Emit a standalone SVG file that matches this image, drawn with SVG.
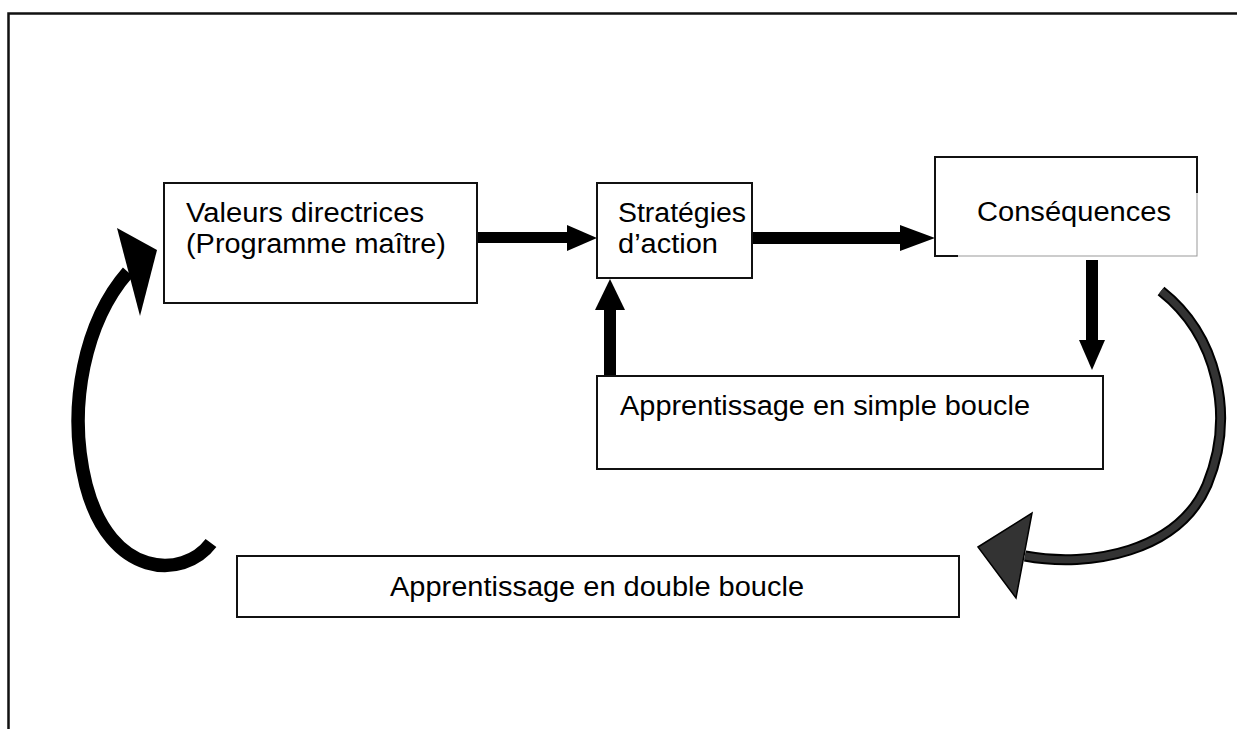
<svg xmlns="http://www.w3.org/2000/svg" width="1237" height="729" viewBox="0 0 1237 729">
<style>
.box{fill:#fff;stroke:#111;stroke-width:2}
.t{font-family:"Liberation Sans",Arial,sans-serif;font-size:27px;fill:#000}
.frame{stroke:#111;stroke-width:2.5;fill:none}
</style>
<rect width="1237" height="729" fill="#fff"/>
<path class="frame" d="M8.5,729 V13.5 H1237"/>

<g id="connectors">
  <g id="a1"><rect x="478" y="232" width="90" height="11" fill="#000"/><polygon points="567,225 597,238 567,251" fill="#000"/></g>
  <g id="a2"><rect x="752" y="232" width="150" height="12" fill="#000"/><polygon points="900,225 935,238 900,251" fill="#000"/></g>
  <g id="a3"><rect x="604" y="308" width="12" height="69" fill="#000"/><polygon points="595,310 610,279 625,310" fill="#000"/></g>
  <g id="a4"><rect x="1086" y="260" width="12" height="82" fill="#000"/><polygon points="1079,340 1092,370 1105,340" fill="#000"/></g>
  <g id="left-loop">
    <path d="M211,543 C183,580 110,578 86,485 C66,405 86,320 128,272" fill="none" stroke="#000" stroke-width="13.5"/>
    <polygon points="117,228 157,250 140,316" fill="#000"/>
  </g>
  <g id="right-loop">
    <path d="M1161,291 C1217,335 1236,415 1207,485 C1178,552 1090,568 1025,556" fill="none" stroke="#000" stroke-width="11"/>
    <path d="M1161,291 C1217,335 1236,415 1207,485 C1178,552 1090,568 1025,556" fill="none" stroke="#333" stroke-width="7"/>
    <polygon points="978,547 1032,513 1016,598" fill="#333" stroke="#000" stroke-width="1.5"/>
  </g>
</g>

<g id="n-valeurs">
  <rect class="box" x="164" y="183" width="313" height="120"/>
  <text class="t" x="186" y="222" textLength="238" lengthAdjust="spacingAndGlyphs">Valeurs directrices</text>
  <text class="t" x="186" y="253" textLength="260" lengthAdjust="spacingAndGlyphs">(Programme maître)</text>
</g>
<g id="n-strategies">
  <rect class="box" x="597" y="183" width="155" height="95"/>
  <text class="t" x="618" y="222" textLength="128" lengthAdjust="spacingAndGlyphs">Stratégies</text>
  <text class="t" x="618" y="253" textLength="100" lengthAdjust="spacingAndGlyphs">d’action</text>
</g>
<g id="n-consequences">
  <rect x="935" y="157" width="262" height="99" fill="#fff" stroke="#999" stroke-width="1"/>
  <path d="M935,256 V157 H1197 V193 M934,256 H958" fill="none" stroke="#111" stroke-width="2"/>
  <text class="t" x="977" y="221" textLength="194" lengthAdjust="spacingAndGlyphs">Conséquences</text>
</g>
<g id="n-simple">
  <rect class="box" x="597" y="376" width="506" height="93"/>
  <text class="t" x="620" y="415" textLength="410" lengthAdjust="spacingAndGlyphs">Apprentissage en simple boucle</text>
</g>
<g id="n-double">
  <rect class="box" x="237" y="556" width="722" height="61"/>
  <text class="t" x="390" y="596" textLength="414" lengthAdjust="spacingAndGlyphs">Apprentissage en double boucle</text>
</g>
</svg>
